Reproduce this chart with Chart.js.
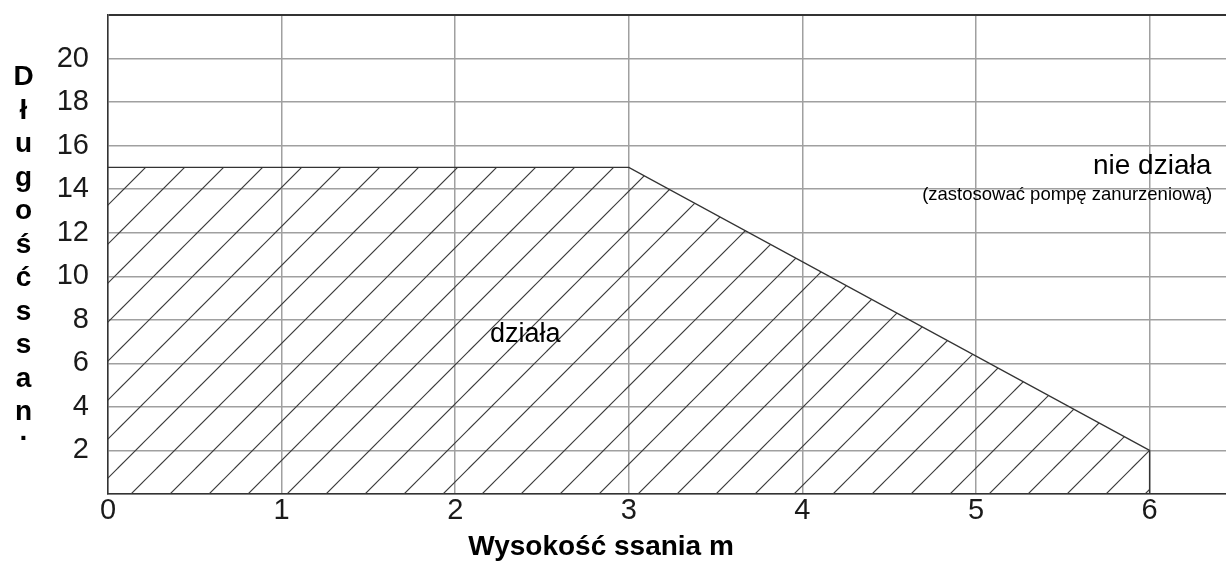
<!DOCTYPE html>
<html lang="pl">
<head>
<meta charset="utf-8">
<title>Długość ssania</title>
<script src="https://cdn.jsdelivr.net/npm/chart.js@4.4.1/dist/chart.umd.min.js"></script>
<style>
  html, body { margin: 0; padding: 0; background: #fff; }
  canvas { display: block; }
</style>
</head>
<body>
<canvas id="suctionChart" width="1226" height="561"></canvas>
<script>
// granica pracy: wysokość ssania [m] -> dopuszczalna długość ssania [m]
const suctionHeight = [0, 3, 6, 6];
const suctionLength = [15, 15, 2, 0];

const xTickValues = [0, 1, 2, 3, 4, 5, 6];
const yTickValues = [2, 4, 6, 8, 10, 12, 14, 16, 18, 20];

const xTitle = 'Wysokość ssania m';
const yTitle = ['D', 'ł', 'u', 'g', 'o', 'ś', 'ć', 's', 's', 'a', 'n', '.'];
const zoneLabels = ['działa', 'nie działa', '(zastosować pompę zanurzeniową)'];

const X_MAX = 6.44;
const Y_MAX = 22;
const FONT = "'Liberation Sans', Arial, sans-serif";

const canvas = document.getElementById('suctionChart');
const ctx = canvas.getContext('2d');

// ukośne kreskowanie obszaru "działa"
function makeHatch() {
    const size = 39;
    const tile = document.createElement('canvas');
    tile.width = size;
    tile.height = size;
    const g = tile.getContext('2d');
    g.strokeStyle = '#3a3a3a';
    g.lineWidth = 1.2;
    [1, 40, 79].forEach(k => {
        g.beginPath();
        g.moveTo(k + 5, -5);
        g.lineTo(-5, k + 5);
        g.stroke();
    });
    return ctx.createPattern(tile, 'repeat');
}

// bez dodatkowego marginesu na etykiety skrajne
function noEdgePadding(s) {
    s.paddingTop = 0;
    s.paddingBottom = 0;
    s.paddingLeft = 0;
    s.paddingRight = 0;
}

// napisy w polu wykresu i tytuły osi
const textPlugin = {
    id: 'texts',
    afterDraw(chart) {
        const { x, y } = chart.scales;
        const c = chart.ctx;
        c.save();
        c.fillStyle = '#000';
        c.textBaseline = 'alphabetic';

        c.font = '27px ' + FONT;
        c.textAlign = 'left';
        c.fillText(zoneLabels[0], x.getPixelForValue(2.2), y.getPixelForValue(7));

        c.font = '28px ' + FONT;
        c.textAlign = 'right';
        c.fillText(zoneLabels[1], x.getPixelForValue(6.355), y.getPixelForValue(14.72));
        c.font = '18.5px ' + FONT;
        c.fillText(zoneLabels[2], x.getPixelForValue(6.36), y.getPixelForValue(13.5));

        c.font = 'bold 28px ' + FONT;
        c.textAlign = 'center';
        c.fillText(xTitle, x.getPixelForValue(2.84), 555);

        yTitle.forEach((ch, i) => {
            const base = i < yTitle.length - 1 ? 85 + i * 33.5 : 440;
            c.fillText(ch, 23.5, base);
        });
        c.restore();
    }
};

new Chart(ctx, {
    type: 'line',
    data: {
        datasets: [{
            data: suctionHeight.map((h, i) => ({ x: h, y: suctionLength[i] })),
            borderColor: '#333',
            borderWidth: 1.4,
            pointRadius: 0,
            tension: 0,
            fill: 'origin',
            backgroundColor: makeHatch()
        }]
    },
    options: {
        responsive: false,
        animation: false,
        events: [],
        layout: { padding: { top: 15, left: 0, right: 0, bottom: 0 } },
        plugins: { legend: { display: false }, tooltip: { enabled: false } },
        scales: {
            x: {
                type: 'linear',
                min: 0,
                max: X_MAX,
                afterFit: s => { s.height = 67; noEdgePadding(s); },
                grid: { color: '#a0a0a0', lineWidth: 1.5, drawTicks: false },
                border: { color: '#333', width: 1.5 },
                ticks: {
                    stepSize: 1,
                    includeBounds: false,
                    autoSkip: false,
                    maxRotation: 0,
                    padding: 2,
                    color: '#1a1a1a',
                    font: { family: FONT, size: 29, lineHeight: 1 },
                    callback: v => xTickValues.includes(v) ? v : ''
                }
            },
            y: {
                min: 0,
                max: Y_MAX,
                afterFit: s => { s.width = 108; noEdgePadding(s); },
                grid: {
                    color: c => c.tick && c.tick.value === Y_MAX ? '#333' : '#a0a0a0',
                    lineWidth: c => c.tick && c.tick.value === Y_MAX ? 2 : 1.5,
                    drawTicks: false
                },
                border: { color: '#333', width: 1.5 },
                ticks: {
                    stepSize: 2,
                    padding: 19,
                    color: '#1a1a1a',
                    font: { family: FONT, size: 29, lineHeight: 1 },
                    callback: v => yTickValues.includes(v) ? v : ''
                }
            }
        }
    },
    plugins: [textPlugin]
});
</script>
</body>
</html>
